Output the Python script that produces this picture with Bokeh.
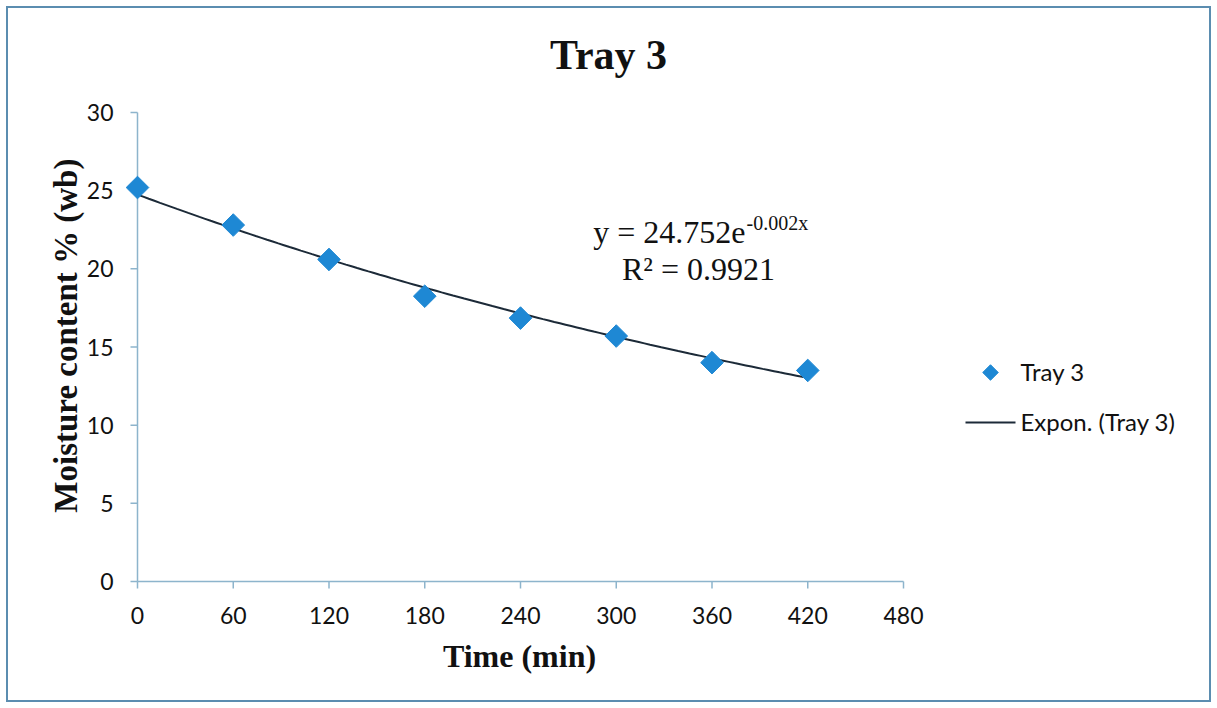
import numpy as np
from bokeh.plotting import figure
from bokeh.layouts import column
from bokeh.models import Range1d, Label, ColumnDataSource
from bokeh.embed import file_html
from bokeh.resources import INLINE

# ---- data ----
time_min = [0, 60, 120, 180, 240, 300, 360, 420]
moisture = [25.2, 22.8, 20.6, 18.25, 16.85, 15.7, 14.0, 13.5]
x_ticks = [0, 60, 120, 180, 240, 300, 360, 420, 480]
y_ticks = [0, 5, 10, 15, 20, 25, 30]
title_text = "Tray 3"
x_title = "Time (min)"
y_title = "Moisture content %  (wb)"
series_name = "Tray 3"
trend_name = "Expon. (Tray 3)"
eq_main = "y = 24.752e"
eq_sup = "-0.002x"
eq_r2 = "R\u00b2 = 0.9921"

# exponential trendline fitted to the points (as a spreadsheet does)
k, ln_a = np.polyfit(np.array(time_min, float), np.log(moisture), 1)
trend_x = np.linspace(min(time_min), max(time_min), 120)
trend_y = np.exp(ln_a) * np.exp(k * trend_x)

# ---- layout (pixels inside the figure) ----
W, H = 1201, 692                 # inside a 6px margin + 2px border
X_MIN, X_MAX = x_ticks[0], x_ticks[-1]
Y_MIN, Y_MAX = y_ticks[0], y_ticks[-1]
PX_L, PX_R = 129, 895            # pixel of x = X_MIN / X_MAX
PY_B, PY_T = 573, 104            # pixel of y = Y_MIN / Y_MAX
sx = (PX_R - PX_L) / (X_MAX - X_MIN)
sy = (PY_B - PY_T) / (Y_MAX - Y_MIN)
x_range = Range1d(X_MIN - PX_L / sx, X_MAX + (W - PX_R) / sx)
y_range = Range1d(Y_MIN - (H - PY_B) / sy, Y_MAX + PY_T / sy)


def px2x(px):
    return X_MIN + (px - PX_L) / sx


def py2y(py):
    return Y_MIN + (PY_B - py) / sy


p = figure(width=W, height=H, output_backend="svg", toolbar_location=None,
           x_range=x_range, y_range=y_range,
           x_axis_location=None, y_axis_location=None, title_location=None,
           min_border=0, min_border_left=0, min_border_right=0,
           min_border_top=0, min_border_bottom=0)
p.outline_line_color = None
p.xgrid.visible = False
p.ygrid.visible = False
p.background_fill_color = "white"
p.border_fill_color = "white"

AXIS_COL = "#8db4cc"
TXT = "#111111"
TICK_FONT = "Lato"
SERIF = "Liberation Serif"
TICK_LEN = 7

# axes
p.segment(x0=[X_MIN, X_MIN], y0=[Y_MIN, Y_MIN], x1=[X_MAX, X_MIN], y1=[Y_MIN, Y_MAX],
          line_color=AXIS_COL, line_width=1.5)
p.segment(x0=x_ticks, y0=[Y_MIN] * len(x_ticks), x1=x_ticks,
          y1=[Y_MIN - TICK_LEN / sy] * len(x_ticks),
          line_color=AXIS_COL, line_width=1.5)
p.segment(x0=[X_MIN] * len(y_ticks), y0=y_ticks,
          x1=[X_MIN - TICK_LEN / sx] * len(y_ticks), y1=y_ticks,
          line_color=AXIS_COL, line_width=1.5)
p.text(x=x_ticks, y=[Y_MIN] * len(x_ticks), text=[str(t) for t in x_ticks],
       y_offset=34, text_align="center", text_baseline="middle",
       text_font={"value": TICK_FONT}, text_font_size="23px", text_color=TXT)
p.text(x=[X_MIN] * len(y_ticks), y=y_ticks, text=[str(t) for t in y_ticks],
       x_offset=-24, text_align="right", text_baseline="middle",
       text_font={"value": TICK_FONT}, text_font_size="23px", text_color=TXT)

# data
src = ColumnDataSource(dict(x=time_min, y=moisture))
p.line(trend_x, trend_y, line_color="#1c2a38", line_width=2)
p.scatter("x", "y", source=src, marker="square", angle=np.pi / 4,
          size=16, fill_color="#1e88d4", line_color="#1e88d4")


def lab(x, y, text, size, font=SERIF, style="normal", align="center", angle=0.0):
    p.add_layout(Label(x=x, y=H - y, x_units="screen", y_units="screen",
                       text=text, text_align=align, text_baseline="middle",
                       text_font=font, text_font_style=style,
                       text_font_size=size, text_color=TXT, angle=angle))


# titles
lab(600, 46, title_text, "42px", style="bold")
lab(511, 647, x_title, "32px", style="bold")
lab(57, 323, y_title, "33px", style="bold", angle=np.pi / 2)

# trendline equation
lab(737, 223, eq_main, "32px", align="right")
lab(738, 214, eq_sup, "20px", align="left")
lab(690, 260, eq_r2, "32px")

# legend
LEG_KEY_L, LEG_KEY_R, LEG_TXT = 957, 1007, 1012
LEG_Y1, LEG_Y2 = 364, 414
p.scatter(x=[px2x((LEG_KEY_L + LEG_KEY_R) / 2)], y=[py2y(LEG_Y1)], marker="square",
          angle=np.pi / 4, size=11, fill_color="#1e88d4", line_color="#1e88d4")
p.line(x=[px2x(LEG_KEY_L), px2x(LEG_KEY_R)], y=[py2y(LEG_Y2)] * 2,
       line_color="#1c2a38", line_width=2)
lab(LEG_TXT, LEG_Y1 - 1, series_name, "24px", font=TICK_FONT, align="left")
lab(LEG_TXT, LEG_Y2 - 1, trend_name, "24px", font=TICK_FONT, align="left")

page = column(p, styles={"margin": "6px", "border": "2px solid #5b8db0",
                         "background-color": "white"})
open("out.html", "w").write(file_html(page, INLINE))
